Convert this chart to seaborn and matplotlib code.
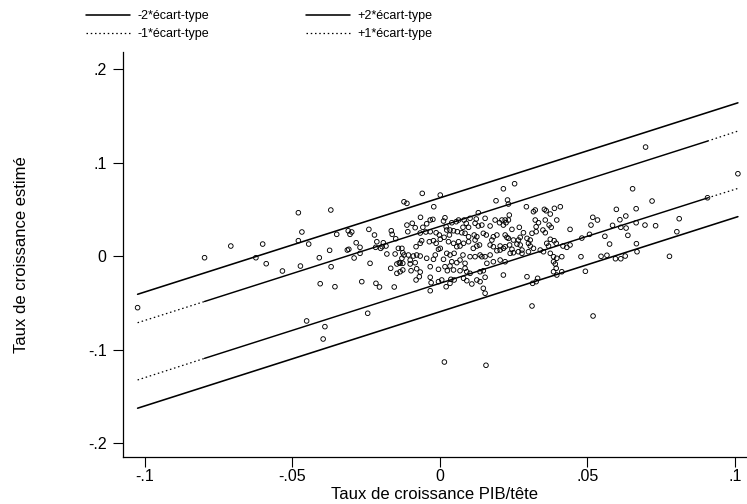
import pandas as pd
import seaborn as sns
import matplotlib.pyplot as plt

# taux de croissance PIB/tete (x) et taux estime (y)
pib = [
    -0.1025, -0.0798, -0.0709, -0.0601, -0.0624, -0.0589, -0.0534,
    -0.0480, -0.0468, -0.0480, -0.0445, -0.0473, -0.0409, -0.0374,
    -0.0370, -0.0369, -0.0406, -0.0452, -0.0390, -0.0396, -0.0356,
    -0.0060, 0.0001, -0.0122, -0.0112, -0.0021, -0.0350, -0.0311,
    -0.0299, -0.0305, -0.0241, -0.0222, -0.0165, -0.0162, -0.0150,
    -0.0112, -0.0094, -0.0084, -0.0109, -0.0066, -0.0058, -0.0045,
    -0.0033, -0.0024, 0.0017, 0.0012, 0.0021, 0.0023, 0.0040,
    -0.0067, -0.0048, -0.0033, -0.0013, -0.0002, -0.0214, -0.0192,
    -0.0183, -0.0284, -0.0271, -0.0314, -0.0309, -0.0291, -0.0271,
    -0.0218, -0.0201, -0.0196, -0.0180, -0.0152, -0.0141, -0.0129,
    -0.0126, -0.0122, -0.0107, -0.0090, -0.0101, -0.0129, -0.0138,
    -0.0126, -0.0081, -0.0067, -0.0062, -0.0036, -0.0022, -0.0013,
    0.0001, 0.0014, 0.0029, 0.0032, -0.0005, 0.0001, -0.0079,
    -0.0067, -0.0045, -0.0022, 0.0012, 0.0023, -0.0016, -0.0237,
    -0.0167, -0.0146, -0.0135, -0.0101, -0.0084, -0.0146, -0.0135,
    -0.0126, -0.0098, -0.0079, -0.0067, -0.0070, -0.0033, -0.0005,
    0.0017, 0.0034, 0.0025, -0.0081, -0.0033, -0.0030, -0.0033,
    -0.0005, 0.0006, -0.0265, -0.0217, -0.0205, -0.0155, 0.0021, 0.0034,
    0.0253, 0.0215, 0.0190, 0.0229, 0.0232, 0.0293, 0.0317,
    0.0323, 0.0354, 0.0360, 0.0388, 0.0408, 0.0374, 0.0130,
    0.0235, 0.0055, 0.0063, 0.0082, 0.0102, 0.0123, 0.0153,
    0.0187, 0.0210, 0.0221, 0.0232, 0.0224, 0.0215, 0.0089,
    0.0078, 0.0097, 0.0119, 0.0130, 0.0142, 0.0170, 0.0202,
    0.0244, 0.0269, 0.0323, 0.0334, 0.0326, 0.0357, 0.0370,
    0.0377, 0.0396, 0.0441, 0.0034, 0.0046, 0.0059, 0.0074,
    0.0085, 0.0097, 0.0116, 0.0125, 0.0119, 0.0147, 0.0157,
    0.0181, 0.0176, 0.0193, 0.0221, 0.0227, 0.0232, 0.0249,
    0.0266, 0.0272, 0.0283, 0.0312, 0.0326, 0.0349, 0.0357,
    0.0295, 0.0306, 0.0046, 0.0063, 0.0080, 0.0097, 0.0057,
    0.0068, 0.0125, 0.0113, 0.0134, 0.0170, 0.0181, 0.0204,
    0.0215, 0.0221, 0.0236, 0.0244, 0.0261, 0.0272, 0.0278,
    0.0300, 0.0306, 0.0317, 0.0340, 0.0351, 0.0374, 0.0387,
    0.0394, 0.0417, 0.0430, 0.0441, 0.0362, 0.0368, 0.0034,
    0.0048, 0.0078, 0.0102, 0.0119, 0.0136, 0.0142, 0.0153,
    0.0170, 0.0193, 0.0204, 0.0238, 0.0249, 0.0266, 0.0278,
    0.0300, 0.0374, 0.0385, 0.0396, 0.0413, 0.0040, 0.0057,
    0.0068, 0.0085, 0.0159, 0.0181, 0.0204, 0.0221, 0.0385,
    0.0391, 0.0046, 0.0068, 0.0085, 0.0091, 0.0102, 0.0136,
    0.0147, 0.0215, 0.0295, 0.0331, 0.0385, 0.0394, 0.0037,
    0.0048, 0.0080, 0.0091, 0.0108, 0.0125, 0.0136, 0.0153,
    0.0147, 0.0153, 0.0314, 0.0326, 0.0396, 0.0413,
    0.0697, 0.1010, 0.0653, 0.0719, 0.0907, 0.0598, 0.0665,
    0.0518, 0.0534, 0.0610, 0.0630, 0.0512, 0.0585, 0.0613,
    0.0631, 0.0665, 0.0695, 0.0731, 0.0811, 0.0507, 0.0481,
    0.0559, 0.0637, 0.0803, 0.0575, 0.0666, 0.0668, 0.0478,
    0.0546, 0.0566, 0.0595, 0.0613, 0.0628, 0.0778, 0.0493,
    -0.0245, 0.0312, 0.0015, 0.0156, 0.0519,
]
estime = [
    -0.0550, -0.0016, 0.0109, 0.0130, -0.0016, -0.0080, -0.0158,
    0.0465, 0.0259, 0.0166, 0.0130, -0.0105, -0.0016, 0.0063,
    0.0494, -0.0112, -0.0294, -0.0692, -0.0753, -0.0885, -0.0326,
    0.0672, 0.0654, 0.0582, 0.0565, 0.0529, 0.0234, 0.0272,
    0.0259, 0.0234, 0.0287, 0.0227, 0.0272, 0.0234, 0.0187,
    0.0333, 0.0352, 0.0305, 0.0262, 0.0416, 0.0309, 0.0347,
    0.0387, 0.0394, 0.0411, 0.0376, 0.0315, 0.0280, 0.0358,
    0.0248, 0.0259, 0.0262, 0.0251, 0.0227, 0.0155, 0.0144,
    0.0109, 0.0144, 0.0095, 0.0066, 0.0074, -0.0019, 0.0031,
    0.0095, 0.0084, 0.0102, 0.0024, 0.0024, 0.0084, 0.0084,
    0.0037, 0.0013, 0.0013, 0.0002, -0.0041, -0.0022, -0.0069,
    -0.0076, 0.0102, 0.0138, 0.0166, 0.0155, 0.0166, 0.0138,
    0.0181, 0.0202, 0.0155, 0.0227, 0.0074, 0.0084, 0.0013,
    0.0002, -0.0022, -0.0033, -0.0033, 0.0031, 0.0013, -0.0076,
    -0.0129, -0.0083, -0.0076, -0.0083, -0.0069, -0.0183, -0.0166,
    -0.0147, -0.0155, -0.0134, -0.0169, -0.0219, -0.0112, -0.0140,
    -0.0112, -0.0105, -0.0155, -0.0254, -0.0225, -0.0283, -0.0369,
    -0.0272, -0.0254, -0.0272, -0.0290, -0.0329, -0.0329, -0.0326, -0.0290,
    0.0775, 0.0721, 0.0593, 0.0601, 0.0558, 0.0529, 0.0476,
    0.0494, 0.0501, 0.0486, 0.0512, 0.0529, 0.0451, 0.0465,
    0.0440, 0.0369, 0.0387, 0.0387, 0.0405, 0.0398, 0.0405,
    0.0387, 0.0387, 0.0387, 0.0387, 0.0358, 0.0333, 0.0352,
    0.0309, 0.0309, 0.0352, 0.0323, 0.0333, 0.0323, 0.0358,
    0.0287, 0.0309, 0.0387, 0.0358, 0.0315, 0.0387, 0.0333,
    0.0309, 0.0387, 0.0287, 0.0280, 0.0272, 0.0262, 0.0251,
    0.0245, 0.0208, 0.0227, 0.0208, 0.0173, 0.0245, 0.0227,
    0.0208, 0.0173, 0.0227, 0.0227, 0.0202, 0.0191, 0.0173,
    0.0173, 0.0202, 0.0251, 0.0245, 0.0262, 0.0280, 0.0251,
    0.0191, 0.0173, 0.0138, 0.0155, 0.0138, 0.0155, 0.0102,
    0.0109, 0.0109, 0.0084, 0.0120, 0.0120, 0.0102, 0.0109,
    0.0084, 0.0102, 0.0120, 0.0074, 0.0130, 0.0120, 0.0066,
    0.0138, 0.0109, 0.0084, 0.0066, 0.0048, 0.0181, 0.0166,
    0.0138, 0.0109, 0.0095, 0.0120, 0.0138, 0.0109, 0.0013,
    0.0031, 0.0013, -0.0005, -0.0005, 0.0013, -0.0005, -0.0005,
    0.0013, 0.0059, 0.0066, 0.0031, 0.0037, 0.0048, 0.0031,
    0.0048, 0.0031, -0.0005, -0.0022, -0.0005, -0.0059, -0.0069,
    -0.0041, -0.0076, -0.0076, -0.0059, -0.0041, -0.0059, -0.0059,
    -0.0083, -0.0147, -0.0155, -0.0129, -0.0166, -0.0183, -0.0166,
    -0.0155, -0.0201, -0.0219, -0.0236, -0.0166, -0.0129, -0.0247,
    -0.0254, -0.0236, -0.0262, -0.0297, -0.0254, -0.0272, -0.0225,
    -0.0343, -0.0396, -0.0290, -0.0272, -0.0201, -0.0166,
    0.1167, 0.0882, 0.0721, 0.0590, 0.0625, 0.0501, 0.0508,
    0.0416, 0.0387, 0.0390, 0.0430, 0.0333, 0.0330, 0.0309,
    0.0301, 0.0358, 0.0333, 0.0326, 0.0401, 0.0234, 0.0194,
    0.0213, 0.0223, 0.0262, 0.0130, 0.0134, 0.0048, -0.0005,
    -0.0001, 0.0010, -0.0027, -0.0027, 0.0002, -0.0001, -0.0161,
    -0.0610, -0.0532, -0.1131, -0.1166, -0.0639,
]

# bandes +/- 2 ecarts-types (extremites)
bande_x = [-0.1025, 0.1010]
plus2 = [-0.0407, 0.1640]
moins2 = [-0.1625, 0.0423]
# bandes +/- 1 ecart-type : pointille aux extremites, continu au centre
bande1_x = [-0.1025, -0.0798, 0.0907, 0.1010]
plus1 = [-0.0711, -0.0484, 0.1231, 0.1338]
moins1 = [-0.1323, -0.1092, 0.0623, 0.0725]
bande1_styles = ["dotted", "solid", "dotted"]

xticks = [-0.1, -0.05, 0, 0.05, 0.1]
xtick_labels = ["-.1", "-.05", "0", ".05", ".1"]
yticks = [-0.2, -0.1, 0, 0.1, 0.2]
ytick_labels = ["-.2", "-.1", "0", ".1", ".2"]

sns.set_style("ticks")
plt.rcParams['font.family'] = ['Liberation Sans', 'DejaVu Sans']
plt.rcParams['text.color'] = 'black'
plt.rcParams['axes.labelcolor'] = 'black'

fig, ax = plt.subplots(figsize=(7.47, 5.04), dpi=100)
fig.subplots_adjust(left=0.165, right=0.999, bottom=0.094, top=0.896)

df = pd.DataFrame({"pib": pib, "estime": estime})
sns.scatterplot(data=df, x="pib", y="estime", marker="o", s=11,
                facecolors="none", edgecolors="black", linewidth=0.65, ax=ax)

dots = (0, (1.2, 2.2))
sns.lineplot(x=bande_x, y=moins2, color="black", lw=1.15, ax=ax, label="-2*écart-type")
sns.lineplot(x=bande_x, y=plus2, color="black", lw=1.15, ax=ax, label="+2*écart-type")
for i, st in enumerate(bande1_styles):
    ls = dots if st == "dotted" else "-"
    lw = 0.9 if st == "dotted" else 1.05
    lab_m = "-1*écart-type" if i == 0 else None
    lab_p = "+1*écart-type" if i == 0 else None
    sns.lineplot(x=bande1_x[i:i + 2], y=moins1[i:i + 2], color="black", lw=lw,
                 linestyle=ls, ax=ax, label=lab_m)
    sns.lineplot(x=bande1_x[i:i + 2], y=plus1[i:i + 2], color="black", lw=lw,
                 linestyle=ls, ax=ax, label=lab_p)

ax.set_xlim(-0.10736, 0.10383)
ax.set_ylim(-0.21426, 0.21789)
ax.set_xticks(xticks)
ax.set_xticklabels(xtick_labels)
ax.set_yticks(yticks)
ax.set_yticklabels(ytick_labels)
ax.tick_params(direction="out", length=7, width=0.8, labelsize=11.5, colors="black")
ax.tick_params(axis="y", pad=5)
ax.tick_params(axis="x", pad=2)
sns.despine(ax=ax)
for sp in ["left", "bottom"]:
    ax.spines[sp].set_color("black")
    ax.spines[sp].set_linewidth(0.9)

ax.set_xlabel("Taux de croissance PIB/tête", fontsize=12, labelpad=2)
ax.set_ylabel("Taux de croissance estimé", fontsize=12)
ax.yaxis.set_label_coords(-0.152, 0.5)

handles, labels = ax.get_legend_handles_labels()
if ax.get_legend() is not None:
    ax.get_legend().remove()
order = ["-2*écart-type", "-1*écart-type", "+2*écart-type", "+1*écart-type"]
lookup = dict(zip(labels, handles))
fig.legend([lookup[k] for k in order], order, loc="upper left",
           bbox_to_anchor=(86 / 747, 1 - 10 / 504), ncol=2, frameon=False,
           fontsize=9, handlelength=3.5, handletextpad=0.6, columnspacing=7.8,
           labelspacing=0.5, borderpad=0, borderaxespad=0)

fig.savefig("out.png", dpi=100)
